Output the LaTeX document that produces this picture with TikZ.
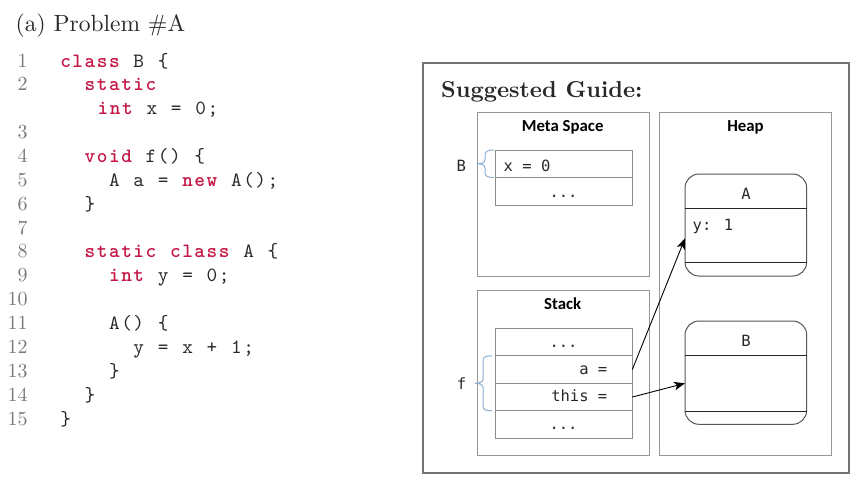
\documentclass[tikz,border=0pt]{standalone}
\usepackage{fontspec}
\usetikzlibrary{arrows.meta}
\newfontfamily\dmono{DejaVu Sans Mono}
\newfontfamily\carl{Carlito}
\newfontfamily\lmten{lmroman10-regular}[Extension=.otf,BoldFont=lmroman10-bold]
\newfontfamily\lmttten{lmmono10-regular}[Extension=.otf,BoldFont=lmmonolt10-bold]
\definecolor{kw}{RGB}{196,22,68}
\definecolor{codetext}{RGB}{40,40,40}
\definecolor{lnum}{RGB}{120,120,120}
\definecolor{bracec}{RGB}{140,175,210}
\definecolor{framec}{RGB}{115,115,115}
\definecolor{regionc}{RGB}{150,150,150}
\definecolor{cellc}{RGB}{140,140,140}
\definecolor{objc}{RGB}{85,85,85}
\definecolor{darktext}{RGB}{40,40,40}
\newlength\codecell
\setlength\codecell{12.2pt}
\ExplSyntaxOn
\NewDocumentCommand\fixw{m}{\tl_map_inline:nn{#1}{\makebox[\codecell][c]{##1}}}
\ExplSyntaxOff
\newcommand\codefont{\lmttten\fontsize{20.3}{24}\selectfont}
\newcommand\kwd[1]{{\color{kw}\bfseries\fixw{#1}}}
\newcommand\txt[1]{\fixw{#1}}
\newcommand\lnum[2]{\node[lnumsty] (n#1) at (27.5,{67+23.87*(#2)}) {#1};}
\newcommand\cword[4]{\node[codesty] (#1) at ({59.5+12.2*(#3)},{67+23.87*(#2)}) {#4};}
\newcommand\vbrace[3]{%
  \pgfmathsetmacro\bxe{#1}\pgfmathsetmacro\bxv{#1-9}\pgfmathsetmacro\bxt{#1-17}%
  \pgfmathsetmacro\bym{(#2+#3)/2}%
  \draw[bracesty] (\bxe,#2) .. controls (\bxv+3,#2) and (\bxv,#2+1) .. (\bxv,#2+5)
    -- (\bxv,\bym-4) .. controls (\bxv,\bym-1) and (\bxv-4,\bym) .. (\bxt,\bym)
    .. controls (\bxv-4,\bym) and (\bxv,\bym+1) .. (\bxv,\bym+4)
    -- (\bxv,#3-5) .. controls (\bxv,#3-1) and (\bxv+3,#3) .. (\bxe,#3);}
\begin{document}
\begin{tikzpicture}[x=1pt,y=-1pt,
  lnumsty/.style={anchor=base east,inner sep=0,outer sep=0,text=lnum,font=\lmten\fontsize{20}{24}\selectfont},
  codesty/.style={anchor=base west,inner sep=0,outer sep=0,text=codetext,font=\codefont},
  framesty/.style={draw=framec,line width=1.3pt,inner sep=0,outer sep=0,anchor=north west},
  region/.style={draw=regionc,line width=0.9pt,inner sep=0,outer sep=0,anchor=north west},
  cell/.style={draw=cellc,line width=0.8pt,minimum width=137.3pt,inner sep=0,outer sep=0,anchor=north west},
  obj/.style={draw=objc,line width=1pt,rounded corners=14pt,minimum width=121.7pt,inner sep=0,outer sep=0,anchor=north west},
  divider/.style={draw=black!85,line width=1pt},
  head/.style={anchor=base,inner sep=0,font=\carl\bfseries\fontsize{16.8}{20}\selectfont,text=black},
  mono/.style={inner sep=0,font=\dmono\fontsize{15.5}{18}\selectfont,text=darktext},
  bracesty/.style={draw=bracec,line width=1pt},
  arr/.style={draw=black,line width=0.9pt,-{Stealth[length=11pt,width=8.5pt,inset=3pt]}}]
\useasboundingbox (0,0) rectangle (859,483);
% title
\node[anchor=base west,inner sep=0,text=darktext,font=\lmten\fontsize{23.5}{28}\selectfont] (title) at (15.5,31.7) {(a) Problem \#A};
% code
\lnum{1}{0}\cword{c1a}{0}{0}{\kwd{class}}\cword{c1b}{0}{6}{\txt{B}}\cword{c1c}{0}{8}{\txt{\{}}
\lnum{2}{1}\cword{c2a}{1}{2}{\kwd{static}}
\cword{c2b}{2}{3.07}{\kwd{int}}\cword{c2c}{2}{7.07}{\txt{x}}\cword{c2d}{2}{9.07}{\txt{=}}\cword{c2e}{2}{11.07}{\txt{0;}}
\lnum{3}{3}
\lnum{4}{4}\cword{c4a}{4}{2}{\kwd{void}}\cword{c4b}{4}{7}{\txt{f()}}\cword{c4c}{4}{11}{\txt{\{}}
\lnum{5}{5}\cword{c5a}{5}{4}{\txt{A}}\cword{c5b}{5}{6}{\txt{a}}\cword{c5c}{5}{8}{\txt{=}}\cword{c5d}{5}{10}{\kwd{new}}\cword{c5e}{5}{14}{\txt{A();}}
\lnum{6}{6}\cword{c6a}{6}{2}{\txt{\}}}
\lnum{7}{7}
\lnum{8}{8}\cword{c8a}{8}{2}{\kwd{static}}\cword{c8b}{8}{9}{\kwd{class}}\cword{c8c}{8}{15}{\txt{A}}\cword{c8d}{8}{17}{\txt{\{}}
\lnum{9}{9}\cword{c9a}{9}{4}{\kwd{int}}\cword{c9b}{9}{8}{\txt{y}}\cword{c9c}{9}{10}{\txt{=}}\cword{c9d}{9}{12}{\txt{0;}}
\lnum{10}{10}
\lnum{11}{11}\cword{c11a}{11}{4}{\txt{A()}}\cword{c11b}{11}{8}{\txt{\{}}
\lnum{12}{12}\cword{c12a}{12}{6}{\txt{y}}\cword{c12b}{12}{8}{\txt{=}}\cword{c12c}{12}{10}{\txt{x}}\cword{c12d}{12}{12}{\txt{+}}\cword{c12e}{12}{14}{\txt{1;}}
\lnum{13}{13}\cword{c13a}{13}{4}{\txt{\}}}
\lnum{14}{14}\cword{c14a}{14}{2}{\txt{\}}}
\lnum{15}{15}\cword{c15a}{15}{0}{\txt{\}}}
% guide frame
\node[framesty,minimum width=426pt,minimum height=410pt] (frame) at (423,63) {};
\node[anchor=base west,inner sep=0,text=darktext,font=\lmten\bfseries\fontsize{23}{28}\selectfont] (guide) at (441,97.3) {Suggested Guide:};
% regions
\node[region,minimum width=171.6pt,minimum height=163.7pt] (meta) at (477.7,112.3) {};
\node[region,minimum width=171.6pt,minimum height=164.3pt] (stack) at (477.7,290.7) {};
\node[region,minimum width=172.4pt,minimum height=342.7pt] (heap) at (659.3,112.3) {};
\node[head] (metah) at (562.7,131.7) {Meta Space};
\node[head] (heaph) at (745.5,131.7) {Heap};
\node[head] (stackh) at (562.7,309.3) {Stack};
% meta cells
\node[cell,minimum height=27.75pt] (m1) at (495,150) {};
\node[cell,minimum height=27.75pt] (m2) at (495,177.75) {};
\node[mono,anchor=base west] (mx) at (503.5,171.5) {x = 0};
\node[mono,anchor=base] (mdots) at (563.5,197.5) {...};
\node[mono,anchor=base] (lb) at (461.4,171) {B};
\vbrace{494}{150}{177.5}
% stack cells
\node[cell,minimum height=27.5pt] (s1) at (495,328.3) {};
\node[cell,minimum height=27.5pt] (s2) at (495,355.8) {};
\node[cell,minimum height=27.5pt] (s3) at (495,383.3) {};
\node[cell,minimum height=27.5pt] (s4) at (495,410.8) {};
\node[mono,anchor=base] (sd1) at (563.5,347.5) {...};
\node[mono,anchor=base east] (sa) at (607.5,374.3) {a =};
\node[mono,anchor=base east] (sthis) at (607.5,401.7) {this =};
\node[mono,anchor=base] (sd2) at (563.5,429.5) {...};
\node[mono,anchor=base] (lf) at (461.5,389) {f};
\vbrace{492}{355.8}{410.8}
% heap objects
\node[obj,minimum height=102pt] (hA) at (685,174) {};
\draw[divider] (hA.west |- 0,208.3) -- (hA.east |- 0,208.3);
\draw[divider] (hA.west |- 0,262.3) -- (hA.east |- 0,262.3);
\node[mono,anchor=base] (hAt) at (746,199.3) {A};
\node[mono,anchor=base west] (hAy) at (692.5,230) {y: 1};
\node[obj,minimum height=103.3pt] (hB) at (685,321) {};
\draw[divider] (hB.west |- 0,355.7) -- (hB.east |- 0,355.7);
\draw[divider] (hB.west |- 0,411) -- (hB.east |- 0,411);
\node[mono,anchor=base] (hBt) at (746,346.7) {B};
% arrows
\draw[arr] (s2.east) -- (hA.west |- 0,238.3);
\draw[arr] (s3.east) -- (hB.west |- 0,383.3);
\end{tikzpicture}
\end{document}
